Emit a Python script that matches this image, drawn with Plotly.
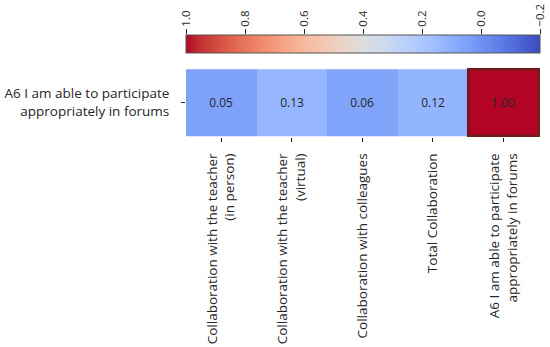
import plotly.graph_objects as go

# ---- data ----
columns = [
    "Collaboration with the teacher<br>(in person)",
    "Collaboration with the teacher<br>(virtual)",
    "Collaboration with colleagues",
    "Total Collaboration",
    "A6 I am able to participate<br>appropriately in forums",
]
rows = ["A6 I am able to participate<br>appropriately in forums"]
values = [0.05, 0.13, 0.06, 0.12, 1.00]
scale_min, scale_max = -0.2, 1.0
cbar_ticks = [1.0, 0.8, 0.6, 0.4, 0.2, 0.0, -0.2]
cbar_labels = ["1.0", "0.8", "0.6", "0.4", "0.2", "0.0", "\u22120.2"]

# matplotlib "coolwarm" (Moreland) colour table
coolwarm_rgb = [
    (59, 76, 192), (68, 90, 204), (77, 104, 215), (87, 117, 225), (98, 130, 234),
    (108, 142, 241), (119, 154, 247), (130, 165, 251), (141, 176, 254), (152, 185, 255),
    (163, 194, 255), (174, 201, 253), (184, 208, 249), (194, 213, 244), (204, 217, 238),
    (213, 219, 230), (221, 221, 221), (229, 216, 209), (236, 211, 197), (241, 204, 185),
    (245, 196, 173), (247, 187, 160), (247, 177, 148), (247, 166, 135), (244, 154, 123),
    (241, 141, 111), (236, 127, 99), (229, 112, 88), (222, 96, 77), (213, 80, 66),
    (203, 62, 56), (192, 40, 47), (180, 4, 38),
]
n = len(coolwarm_rgb) - 1
coolwarm = [[i / n, f"rgb{c}"] for i, c in enumerate(coolwarm_rgb)]

FONT = "Open Sans"
TXT = "#262626"
FS = 13.5

fig = go.Figure()

# The colour bar runs from 1.0 (left) to -0.2 (right), so values are mirrored
fig.add_trace(go.Heatmap(
    x=columns, y=rows,
    z=[[-v for v in values]],
    zmin=-scale_max, zmax=-scale_min,
    colorscale=coolwarm, reversescale=True,
    text=[[f"{v:.2f}" for v in values]],
    texttemplate="%{text}",
    textfont=dict(size=12, color=TXT, family=FONT),
    hovertemplate="%{y}<br>%{x}<br>%{text}<extra></extra>",
    colorbar=dict(
        orientation="h",
        x=0.5, xanchor="center", xref="paper",
        y=1.0, yanchor="top", yref="paper",
        len=1.0, lenmode="fraction",
        thickness=18,
        xpad=0, ypad=0,
        showticklabels=False, ticks="",
        outlinecolor="#555", outlinewidth=1,
    ),
))

# invisible trace carrying the axis used for colour-bar labels
fig.add_trace(go.Scatter(
    x=cbar_ticks, y=[0.5] * len(cbar_ticks),
    xaxis="x2", yaxis="y2",
    mode="markers", marker=dict(opacity=0),
    hoverinfo="skip", showlegend=False,
))

# outline of the self-correlation cell (value 1.00)
k = values.index(max(values))
fig.add_shape(type="rect", xref="x", yref="y",
              x0=k - 0.5, x1=k + 0.5, y0=-0.5, y1=0.5,
              line=dict(color="#6e1c1c", width=2.5))

fig.update_layout(
    width=550, height=347,
    margin=dict(l=186, r=10, t=35, b=210, autoexpand=False),
    paper_bgcolor="white", plot_bgcolor="white",
    font=dict(family=FONT, size=FS, color=TXT),
    xaxis=dict(
        domain=[0, 1], anchor="y",
        tickangle=-90, ticks="outside", ticklen=4, tickcolor=TXT,
        ticklabelstandoff=6,
        showgrid=False, zeroline=False, showline=False,
        automargin=False, tickfont=dict(size=FS),
    ),
    yaxis=dict(
        domain=[0, 69 / 102], anchor="x",
        ticks="outside", ticklen=4, tickcolor=TXT,
        ticklabelstandoff=9,
        showgrid=False, zeroline=False, showline=False,
        automargin=False, tickfont=dict(size=FS),
    ),
    xaxis2=dict(
        domain=[0, 1], anchor="y2", side="top",
        range=[scale_max, scale_min],
        tickvals=cbar_ticks, ticktext=cbar_labels,
        tickangle=-90, ticks="outside", ticklen=5, tickcolor=TXT,
        showgrid=False, zeroline=False, showline=False,
        automargin=False, tickfont=dict(size=11.5),
    ),
    yaxis2=dict(
        domain=[84 / 102, 1], anchor="x2",
        range=[0, 1], visible=False,
    ),
)

# remove the browser's default 8px page margin so the figure sits at (0, 0)
fig.write_html(
    "out.html",
    config={"displayModeBar": False},
    post_script="document.body.style.margin='0';",
)
